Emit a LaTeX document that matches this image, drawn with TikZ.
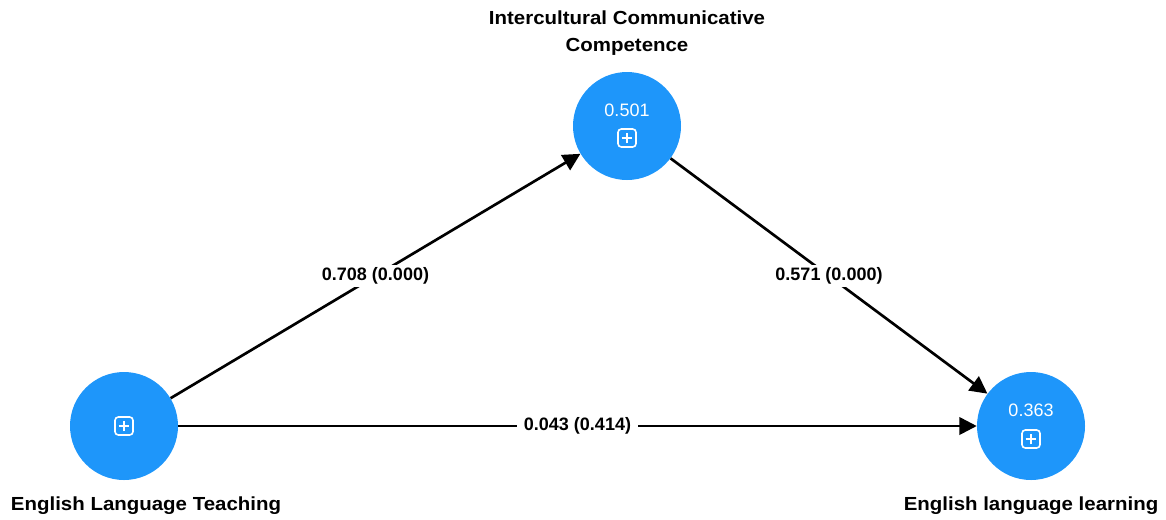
\documentclass[tikz,border=0pt]{standalone}
\usepackage{fontspec}
\setmainfont{Liberation Sans}
\newfontfamily\widebold[FakeStretch=1.08]{Liberation Sans Bold}
\usetikzlibrary{arrows.meta, positioning, calc}
\definecolor{nodeblue}{RGB}{30,150,250}

\begin{document}
\begin{tikzpicture}[x=0.75pt, y=-0.75pt,
    construct/.style={circle, fill=nodeblue, minimum size=81pt, inner sep=0pt},
    valuetext/.style={text=white, inner sep=0pt, font=\fontsize{13.5}{16}\selectfont},
    plusbox/.style={draw=white, line width=1.2pt, rounded corners=2.5pt,
        minimum size=13.5pt, inner sep=0pt,
        path picture={
            \draw[white, line width=1.2pt]
                ($(path picture bounding box.center)+(0,-4pt)$) -- ($(path picture bounding box.center)+(0,4pt)$)
                ($(path picture bounding box.center)+(-4pt,0)$) -- ($(path picture bounding box.center)+(4pt,0)$);
        }},
    pathline/.style={draw=black, line width=2pt, -{Triangle[length=13pt, width=13pt]}},
    coeff/.style={fill=white, inner xsep=5pt, inner ysep=2pt,
        font=\bfseries\fontsize{13.5}{16}\selectfont},
    title/.style={inner sep=0pt, align=center, font=\widebold\fontsize{14.2}{20}\selectfont}
]
    \useasboundingbox (0,0) rectangle (1166,519);

    % constructs
    \node[construct] (elt) at (124,426) {};
    \node[construct] (icc) at (627,126) {};
    \node[construct] (ell) at (1031,426) {};

    % R-square values and icons
    \node[valuetext] (icc-val) at ($(icc)+(0,-16)$) {0.501};
    \node[valuetext] (ell-val) at ($(ell)+(0,-16)$) {0.363};
    \node[plusbox] (elt-box) at (elt) {};
    \node[plusbox] (icc-box) at ($(icc)+(0,12)$) {};
    \node[plusbox] (ell-box) at ($(ell)+(0,13)$) {};

    % construct names
    \node[title, anchor=north] (icc-lbl) at (627,11) {Intercultural Communicative\\Competence};
    \node[title, anchor=base] (elt-lbl) at (146,510) {English Language Teaching};
    \node[title, anchor=base] (ell-lbl) at (1031,510) {English language learning};

    % paths with coefficients
    \draw[pathline] (elt) -- node[coeff] (c1) {0.708 (0.000)} (icc);
    \draw[pathline] (icc) -- node[coeff] (c2) {0.571 (0.000)} (ell);
    \draw[pathline] (elt) -- node[coeff] (c3) {0.043 (0.414)} (ell);
\end{tikzpicture}
\end{document}
